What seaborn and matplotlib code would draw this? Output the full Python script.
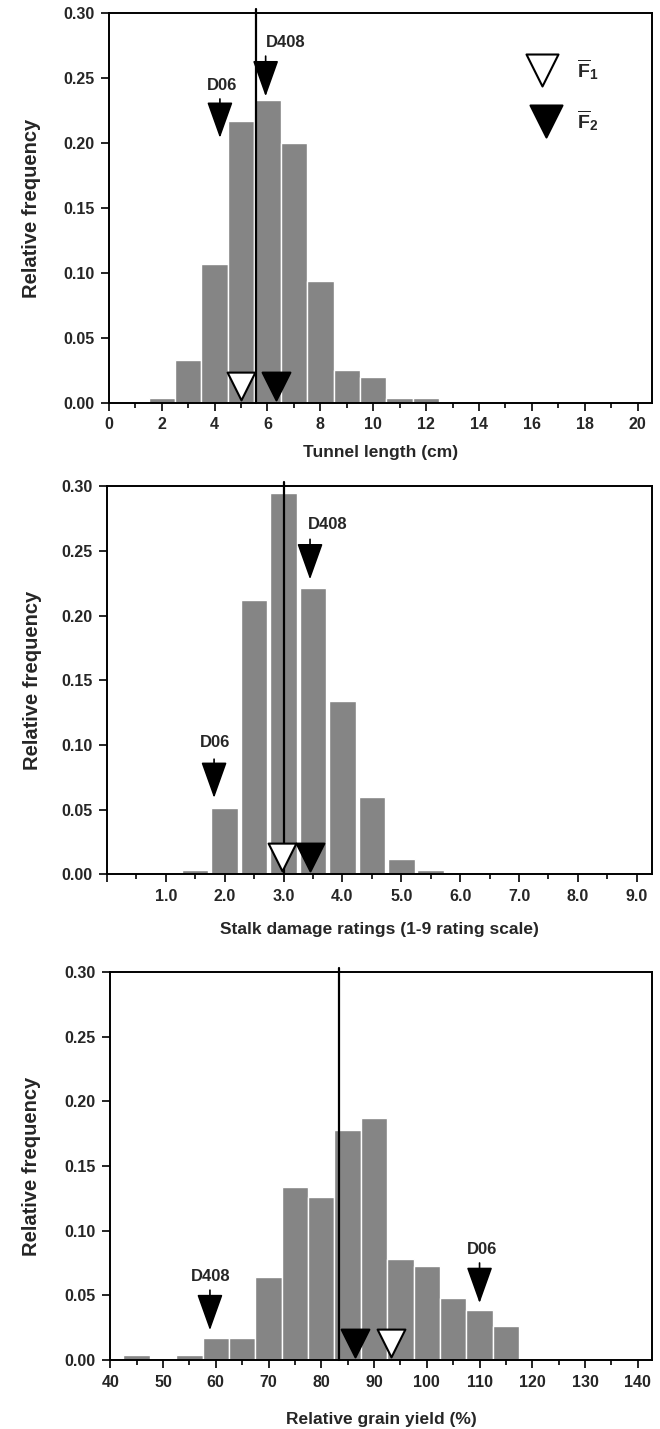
import numpy as np
import pandas as pd
import seaborn as sns
import matplotlib.pyplot as plt
from matplotlib.ticker import MultipleLocator, FormatStrFormatter

sns.set_theme(style="ticks")
plt.rcParams["font.family"] = ["Liberation Sans", "DejaVu Sans"]
plt.rcParams["font.weight"] = "bold"
plt.rcParams["mathtext.fontset"] = "custom"
plt.rcParams["mathtext.bf"] = "Liberation Sans:bold"
plt.rcParams["mathtext.rm"] = "Liberation Sans:bold"

# tunnel length (cm), bin centres and relative frequencies
tunnel_cm = [2, 3, 4, 5, 6, 7, 8, 9, 10, 11, 12]
tunnel_freq = [0.004, 0.033, 0.107, 0.217, 0.233, 0.200, 0.094, 0.025, 0.020, 0.004, 0.004]
tunnel_mean = 5.55
tunnel_f1, tunnel_f2 = 5.0, 6.32
tunnel_d06, tunnel_d408 = 4.2, 5.93

# stalk damage ratings (1-9 scale)
stalk_rating = [1.5, 2.0, 2.5, 3.0, 3.5, 4.0, 4.5, 5.0, 5.5]
stalk_freq = [0.003, 0.051, 0.212, 0.295, 0.221, 0.134, 0.060, 0.012, 0.003]
stalk_mean = 3.0
stalk_f1, stalk_f2 = 2.98, 3.45
stalk_d06, stalk_d408 = 1.82, 3.45

# relative grain yield (%)
yield_pct = [45, 50, 55, 60, 65, 70, 75, 80, 85, 90, 95, 100, 105, 110, 115]
yield_freq = [0.004, 0.0, 0.004, 0.017, 0.017, 0.064, 0.134, 0.126, 0.178, 0.187,
              0.078, 0.073, 0.048, 0.039, 0.026]
yield_mean = 83.4
yield_f1, yield_f2 = 93.3, 86.3
yield_d06, yield_d408 = 110.0, 58.9

BAR = "#858585"
fig = plt.figure(figsize=(6.6, 14.29), dpi=100)
axes = [fig.add_axes([0.165, 0.7182, 0.823, 0.2725]),
        fig.add_axes([0.162, 0.3882, 0.826, 0.2715]),
        fig.add_axes([0.167, 0.0483, 0.821, 0.2715])]


def panel(ax, x, freq, width, shrink, mean, f1, f2, d06, d408, xlim, major, minor,
          fmt, xlabel, labelpad, ylabelpad):
    df = pd.DataFrame({"x": x, "freq": freq})
    edges = [float(c) - width / 2 for c in x] + [float(x[-1]) + width / 2]
    sns.histplot(data=df, ax=ax, x="x", weights="freq", bins=edges, shrink=shrink,
                 color=BAR, edgecolor="white", linewidth=1, alpha=1)
    ax.axvline(mean, ymin=0, ymax=1.01, clip_on=False, color="black", lw=1.6, zorder=3)
    ax.scatter([f1], [0.013], marker="v", s=400, facecolor="white", edgecolor="black",
               linewidth=1.5, zorder=4)
    ax.scatter([f2], [0.013], marker="v", s=400, facecolor="black", edgecolor="black",
               linewidth=1.5, zorder=4)
    for name, (px, ty, y0, y1) in [("D06", d06), ("D408", d408)]:
        ax.text(px[1], ty, name, ha="center", va="center", fontsize=12, fontweight="bold")
        ax.annotate("", xy=(px[0], y1), xytext=(px[0], y0),
                    arrowprops=dict(arrowstyle="-|>,head_length=2.1,head_width=0.75",
                                    color="black", lw=1.2, shrinkA=0, shrinkB=0,
                                    mutation_scale=11))
    ax.set_xlim(*xlim)
    ax.set_ylim(0, 0.30)
    ax.xaxis.set_major_locator(MultipleLocator(major))
    ax.xaxis.set_minor_locator(MultipleLocator(minor))
    ax.xaxis.set_major_formatter(fmt)
    ax.yaxis.set_major_locator(MultipleLocator(0.05))
    ax.yaxis.set_major_formatter(FormatStrFormatter("%.2f"))
    ax.tick_params(axis="both", which="major", length=6, width=1.4, labelsize=11.5, pad=4.5)
    ax.tick_params(axis="x", which="minor", length=3.5, width=1.4)
    for s in ax.spines.values():
        s.set_linewidth(1.4)
        s.set_color("black")
    for lab in ax.get_xticklabels() + ax.get_yticklabels():
        lab.set_fontweight("bold")
    ax.set_xlabel(xlabel, fontsize=12.5, fontweight="bold", labelpad=labelpad)
    ax.set_ylabel("Relative frequency", fontsize=14.5, fontweight="bold",
                  labelpad=ylabelpad)


panel(axes[0], tunnel_cm, tunnel_freq, 1.0, 1.0, tunnel_mean, tunnel_f1, tunnel_f2,
      ((tunnel_d06, 4.29), 0.2446, 0.234, 0.204),
      ((tunnel_d408, 6.69), 0.2776, 0.267, 0.236),
      (0, 20.55), 2, 1, FormatStrFormatter("%d"), "Tunnel length (cm)", 9, 16)

stalk_fmt = plt.FuncFormatter(lambda v, p: "" if v < 0.5 else f"{v:.1f}")
panel(axes[1], stalk_rating, stalk_freq, 0.5, 0.9, stalk_mean, stalk_f1, stalk_f2,
      ((stalk_d06, 1.83), 0.1015, 0.089, 0.059),
      ((stalk_d408, 3.75), 0.2705, 0.259, 0.228),
      (0, 9.26), 1, 0.5, stalk_fmt, "Stalk damage ratings (1-9 rating scale)", 13, 14)

panel(axes[2], yield_pct, yield_freq, 5, 1.0, yield_mean, yield_f1, yield_f2,
      ((yield_d06, 110.4), 0.0855, 0.075, 0.044),
      ((yield_d408, 59.0), 0.0644, 0.054, 0.023),
      (40, 142.7), 10, 5, FormatStrFormatter("%d"), "Relative grain yield (%)", 16, 17)

# F1 / F2 key in the top panel
ax = axes[0]
ax.scatter([16.38], [0.2563], marker="v", s=530, facecolor="white", edgecolor="black",
           linewidth=1.5, zorder=4)
ax.scatter([16.52], [0.2173], marker="v", s=530, facecolor="black", edgecolor="black",
           linewidth=1.5, zorder=4)
ax.text(17.7, 0.2563, r"$\mathbf{\overline{F}_1}$", fontsize=14, va="center")
ax.text(17.7, 0.2173, r"$\mathbf{\overline{F}_2}$", fontsize=14, va="center")

fig.savefig("out.png", dpi=100)
